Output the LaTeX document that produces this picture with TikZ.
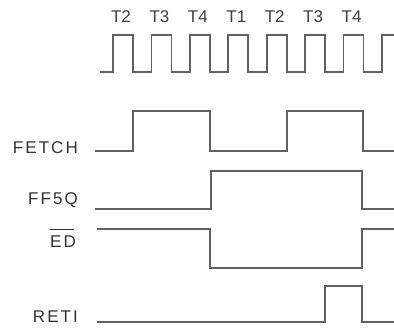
\documentclass[tikz,border=0pt]{standalone}
\usepackage{fontspec}
\setmainfont{Liberation Sans}
\newfontfamily\lblfont[LetterSpace=12]{Liberation Sans}
\begin{document}
\begin{tikzpicture}[x=1pt,y=-1pt,
  wave/.style={draw=black!62,line width=1.8pt,line join=miter},
  tlabel/.style={text=black!75,font=\fontsize{17}{17}\selectfont,inner sep=0pt},
  siglabel/.style={text=black!80,font=\lblfont\fontsize{17}{17}\selectfont,inner sep=0pt,anchor=east}]
\useasboundingbox (0,0) rectangle (394,328);
\fill[white] (0,0) rectangle (394,328);
% clock
\def\p{38.43}
\draw[wave] (100,72) -- (113,72)
  \foreach \i in {0,...,6}{ -- ({113+\i*\p},72) -- ({113+\i*\p},35) -- ({133+\i*\p},35) -- ({133+\i*\p},72) }
  -- (382,72) -- (382,35) -- (394,35);
% T labels
\foreach \t [count=\i from 0] in {T2,T3,T4,T1,T2,T3,T4}
  \node[tlabel] (t\i) at ({121+\i*\p},17) {\t};
% signals
\node[siglabel] (fetch) at (78,148) {FETCH};
\draw[wave] (95,151) -- (133,151) -- (133,111) -- (210,111) -- (210,151) -- (287,151) -- (287,111) -- (363,111) -- (363,151) -- (394,151);
\node[siglabel] (ffsq) at (78,200) {FF5Q};
\draw[wave] (95,209) -- (211,209) -- (211,171) -- (362,171) -- (362,209) -- (394,209);
\node[siglabel] (ed) at (76,242) {ED};
\draw[black!80,line width=0.9pt] ([yshift=6pt]ed.north west) -- ([yshift=6pt,xshift=-2pt]ed.north east);
\draw[wave] (97,229) -- (210,229) -- (210,268) -- (362,268) -- (362,229) -- (394,229);
\node[siglabel] (reti) at (78,317) {RETI};
\draw[wave] (97,322) -- (325,322) -- (325,286) -- (362,286) -- (362,322) -- (394,322);
\end{tikzpicture}
\end{document}
